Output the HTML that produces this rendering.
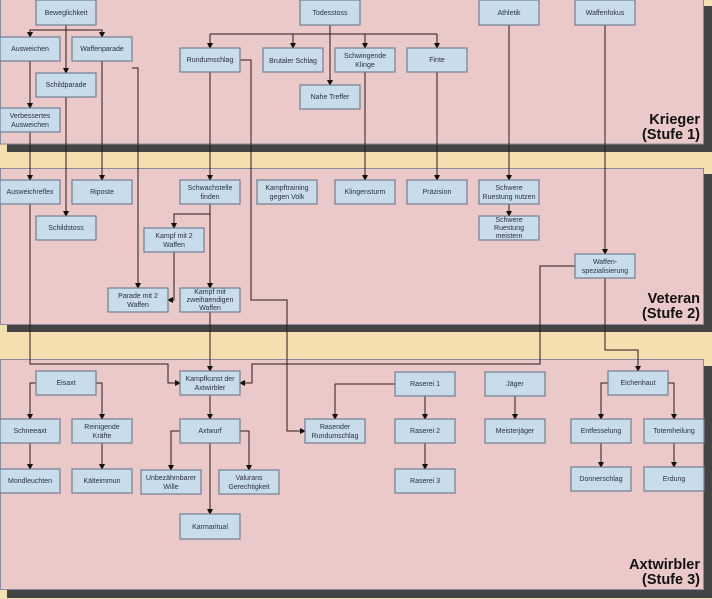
<!DOCTYPE html>
<html><head><meta charset="utf-8"><style>
html,body{margin:0;padding:0;background:#f5deb0;}
svg{display:block}
text{font-family:"Liberation Sans",sans-serif;font-size:7px;fill:#2a3040;text-anchor:middle}
.lab{font-size:14.5px;font-weight:bold;fill:#111;text-anchor:end}
.b{fill:#c9dcea;stroke:#6d7f93;stroke-width:1.2}
.l{fill:none;stroke:#2a1a1a;stroke-width:1}
</style></head><body>
<svg width="712" height="599" viewBox="0 0 712 599" xmlns="http://www.w3.org/2000/svg">
<defs><marker id="a" markerWidth="6" markerHeight="6" refX="5" refY="3" orient="auto" markerUnits="userSpaceOnUse"><path d="M0,0 L6,3 L0,6z" fill="#111"/></marker></defs>
<rect width="712" height="599" fill="#f5deb0"/>
<!-- panels -->
<rect x="7" y="6" width="705" height="146" fill="#444"/>
<rect x="0.5" y="-1" width="703" height="145" fill="#ecc9c9" stroke="#8a8aa0"/>
<rect x="7" y="174" width="705" height="158" fill="#444"/>
<rect x="0.5" y="168.5" width="703" height="156" fill="#ecc9c9" stroke="#8a8aa0"/>
<rect x="7" y="366" width="705" height="232" fill="#444"/>
<rect x="0.5" y="359.5" width="703" height="230" fill="#ecc9c9" stroke="#8a8aa0"/>
<text class="lab" x="700" y="124">Krieger</text><text class="lab" x="700" y="139">(Stufe 1)</text>
<text class="lab" x="700" y="303">Veteran</text><text class="lab" x="700" y="318">(Stufe 2)</text>
<text class="lab" x="700" y="569">Axtwirbler</text><text class="lab" x="700" y="584">(Stufe 3)</text>
<!-- connectors -->
<g class="l">
<path d="M66,25V73" marker-end="url(#a)"/>
<path d="M30,37V30H102V37" /><path d="M30,30V37" marker-end="url(#a)"/><path d="M102,30V37" marker-end="url(#a)"/>
<path d="M30,61V108" marker-end="url(#a)"/>
<path d="M30,132V180" marker-end="url(#a)"/>
<path d="M66,97V216" marker-end="url(#a)"/>
<path d="M102,61V180" marker-end="url(#a)"/>
<path d="M132,68H138V288" marker-end="url(#a)"/>
<path d="M330,25V85" marker-end="url(#a)"/>
<path d="M210,34H437"/>
<path d="M210,34V48" marker-end="url(#a)"/><path d="M293,34V48" marker-end="url(#a)"/><path d="M365,34V48" marker-end="url(#a)"/><path d="M437,34V48" marker-end="url(#a)"/>
<path d="M210,72V180" marker-end="url(#a)"/>
<path d="M240,60H251V300H287V431H305" marker-end="url(#a)"/>
<path d="M365,72V180" marker-end="url(#a)"/>
<path d="M437,72V180" marker-end="url(#a)"/>
<path d="M509,25V180" marker-end="url(#a)"/>
<path d="M509,204V216" marker-end="url(#a)"/>
<path d="M605,25V254" marker-end="url(#a)"/>
<path d="M210,204V288" marker-end="url(#a)"/>
<path d="M210,214H174V228" marker-end="url(#a)"/>
<path d="M174,252V300H168" marker-end="url(#a)"/>
<path d="M210,312V371" marker-end="url(#a)"/>
<path d="M30,204V364H168V383H180" marker-end="url(#a)"/>
<path d="M575,266H540V364H252V383H240" marker-end="url(#a)"/>
<path d="M605,278V350H638V371" marker-end="url(#a)"/>
<path d="M36,383H30V419" marker-end="url(#a)"/>
<path d="M96,383H102V419" marker-end="url(#a)"/>
<path d="M30,443V469" marker-end="url(#a)"/>
<path d="M102,443V469" marker-end="url(#a)"/>
<path d="M210,395V419" marker-end="url(#a)"/>
<path d="M210,443V514" marker-end="url(#a)"/>
<path d="M180,431H171V470" marker-end="url(#a)"/>
<path d="M240,431H249V470" marker-end="url(#a)"/>
<path d="M395,384H335V419" marker-end="url(#a)"/>
<path d="M425,396V419" marker-end="url(#a)"/>
<path d="M425,443V469" marker-end="url(#a)"/>
<path d="M515,396V419" marker-end="url(#a)"/>
<path d="M608,383H601V419" marker-end="url(#a)"/>
<path d="M668,383H674V419" marker-end="url(#a)"/>
<path d="M601,443V467" marker-end="url(#a)"/>
<path d="M674,443V467" marker-end="url(#a)"/>
</g>
<!-- boxes -->
<g>
<rect class="b" x="36" y="0" width="60" height="25"/><text x="66" y="15">Beweglichkeit</text>
<rect class="b" x="0" y="37" width="60" height="24"/><text x="30" y="51">Ausweichen</text>
<rect class="b" x="72" y="37" width="60" height="24"/><text x="102" y="51">Waffenparade</text>
<rect class="b" x="36" y="73" width="60" height="24"/><text x="66" y="87">Schildparade</text>
<rect class="b" x="0" y="108" width="60" height="24"/><text x="30" y="118">Verbessertes</text><text x="30" y="127">Ausweichen</text>
<rect class="b" x="300" y="0" width="60" height="25"/><text x="330" y="15">Todesstoss</text>
<rect class="b" x="180" y="48" width="60" height="24"/><text x="210" y="62">Rundumschlag</text>
<rect class="b" x="263" y="48" width="60" height="24"/><text x="293" y="63">Brutaler Schlag</text>
<rect class="b" x="335" y="48" width="60" height="24"/><text x="365" y="58">Schwingende</text><text x="365" y="67">Klinge</text>
<rect class="b" x="300" y="85" width="60" height="24"/><text x="330" y="99">Nahe Treffer</text>
<rect class="b" x="407" y="48" width="60" height="24"/><text x="437" y="62">Finte</text>
<rect class="b" x="479" y="0" width="60" height="25"/><text x="509" y="15">Athletik</text>
<rect class="b" x="575" y="0" width="60" height="25"/><text x="605" y="15">Waffenfokus</text>

<rect class="b" x="0" y="180" width="60" height="24"/><text x="30" y="194">Ausweichreflex</text>
<rect class="b" x="72" y="180" width="60" height="24"/><text x="102" y="194">Riposte</text>
<rect class="b" x="36" y="216" width="60" height="24"/><text x="66" y="230">Schildstoss</text>
<rect class="b" x="180" y="180" width="60" height="24"/><text x="210" y="190">Schwachstelle</text><text x="210" y="199">finden</text>
<rect class="b" x="257" y="180" width="60" height="24"/><text x="287" y="190">Kampftraining</text><text x="287" y="199">gegen Volk</text>
<rect class="b" x="335" y="180" width="60" height="24"/><text x="365" y="194">Klingensturm</text>
<rect class="b" x="407" y="180" width="60" height="24"/><text x="437" y="194">Präzision</text>
<rect class="b" x="479" y="180" width="60" height="24"/><text x="509" y="190">Schwere</text><text x="509" y="199">Ruestung nutzen</text>
<rect class="b" x="479" y="216" width="60" height="24"/><text x="509" y="222">Schwere</text><text x="509" y="230">Ruestung</text><text x="509" y="238">meistern</text>
<rect class="b" x="144" y="228" width="60" height="24"/><text x="174" y="238">Kampf mit 2</text><text x="174" y="247">Waffen</text>
<rect class="b" x="108" y="288" width="60" height="24"/><text x="138" y="298">Parade mit 2</text><text x="138" y="307">Waffen</text>
<rect class="b" x="180" y="288" width="60" height="24"/><text x="210" y="294">Kampf mit</text><text x="210" y="302">zweihaendigen</text><text x="210" y="310">Waffen</text>
<rect class="b" x="575" y="254" width="60" height="24"/><text x="605" y="264">Waffen-</text><text x="605" y="273">spezialisierung</text>

<rect class="b" x="36" y="371" width="60" height="24"/><text x="66" y="385">Eisaxt</text>
<rect class="b" x="180" y="371" width="60" height="24"/><text x="210" y="381">Kampfkunst der</text><text x="210" y="390">Axtwirbler</text>
<rect class="b" x="0" y="419" width="60" height="24"/><text x="30" y="433">Schneeaxt</text>
<rect class="b" x="72" y="419" width="60" height="24"/><text x="102" y="429">Reinigende</text><text x="102" y="438">Kräfte</text>
<rect class="b" x="180" y="419" width="60" height="24"/><text x="210" y="433">Axtwurf</text>
<rect class="b" x="0" y="469" width="60" height="24"/><text x="30" y="483">Mondleuchten</text>
<rect class="b" x="72" y="469" width="60" height="24"/><text x="102" y="483">Kälteimmun</text>
<rect class="b" x="141" y="470" width="60" height="24"/><text x="171" y="480">Unbezähmbarer</text><text x="171" y="489">Wille</text>
<rect class="b" x="219" y="470" width="60" height="24"/><text x="249" y="480">Valurans</text><text x="249" y="489">Gerechtigkeit</text>
<rect class="b" x="180" y="514" width="60" height="25"/><text x="210" y="529">Karmaritual</text>
<rect class="b" x="305" y="419" width="60" height="24"/><text x="335" y="429">Rasender</text><text x="335" y="438">Rundumschlag</text>
<rect class="b" x="395" y="372" width="60" height="24"/><text x="425" y="386">Raserei 1</text>
<rect class="b" x="395" y="419" width="60" height="24"/><text x="425" y="433">Raserei 2</text>
<rect class="b" x="395" y="469" width="60" height="24"/><text x="425" y="483">Raserei 3</text>
<rect class="b" x="485" y="372" width="60" height="24"/><text x="515" y="386">Jäger</text>
<rect class="b" x="485" y="419" width="60" height="24"/><text x="515" y="433">Meisterjäger</text>
<rect class="b" x="608" y="371" width="60" height="24"/><text x="638" y="385">Eichenhaut</text>
<rect class="b" x="571" y="419" width="60" height="24"/><text x="601" y="433">Entfesselung</text>
<rect class="b" x="644" y="419" width="60" height="24"/><text x="674" y="433">Totemheilung</text>
<rect class="b" x="571" y="467" width="60" height="24"/><text x="601" y="481">Donnerschlag</text>
<rect class="b" x="644" y="467" width="60" height="24"/><text x="674" y="481">Erdung</text>
</g>
</svg>
</body></html>
